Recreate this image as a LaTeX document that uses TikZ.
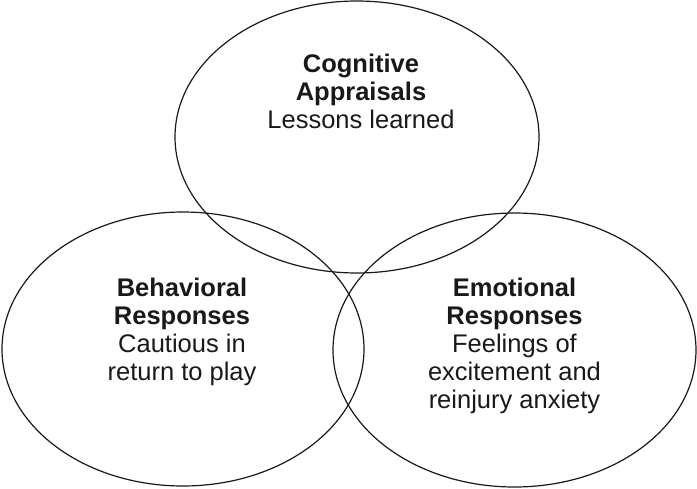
\documentclass[tikz,border=0pt]{standalone}
\usepackage{fontspec}
\setmainfont{Liberation Sans}
\begin{document}
\begin{tikzpicture}[x=1pt,y=-1pt,
  ring/.style={draw=black!90,line width=1.2pt},
  label/.style={anchor=base,align=center,inner sep=0pt,text=black!90,font=\fontsize{25.5}{28}\selectfont}]
\useasboundingbox (0,0) rectangle (697,488);
\coordinate (ctop) at (357,137);
\coordinate (cleft) at (183,349);
\coordinate (cright) at (514.5,350);
\draw[ring] (ctop) ellipse [x radius=182, y radius=136];
\draw[ring] (cleft) ellipse [x radius=181, y radius=137];
\draw[ring] (cright) ellipse [x radius=181.5, y radius=137];
\node[label] (ttop) at (361,128) {\textbf{Cognitive}\\\textbf{Appraisals}\\Lessons learned};
\node[label] (tleft) at (182,380) {\textbf{Behavioral}\\\textbf{Responses}\\Cautious in\\return to play};
\node[label] (tright) at (514.5,408) {\textbf{Emotional}\\\textbf{Responses}\\Feelings of\\excitement and\\reinjury anxiety};
\end{tikzpicture}
\end{document}
